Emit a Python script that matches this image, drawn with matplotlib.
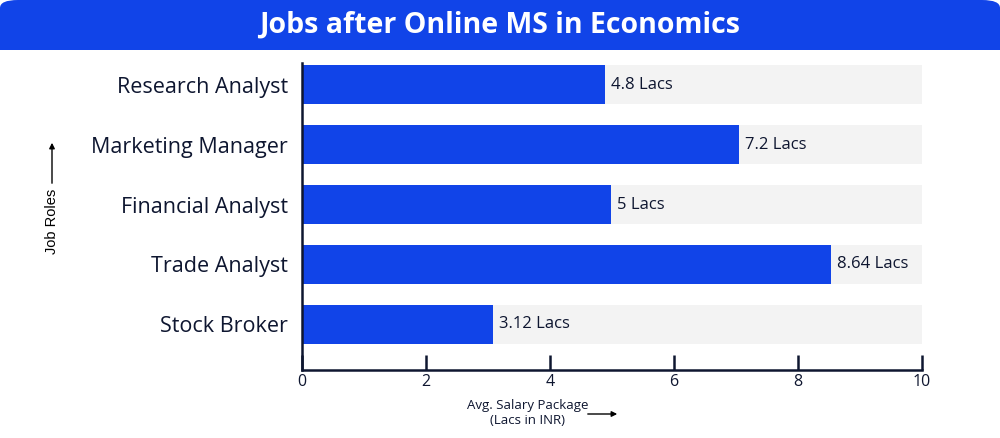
import matplotlib.pyplot as plt
from matplotlib.patches import FancyBboxPatch, FancyArrowPatch, Rectangle

roles = ["Stock Broker", "Trade Analyst", "Financial Analyst", "Marketing Manager", "Research Analyst"]
# bar lengths as drawn in the picture
salaries = [3.08, 8.53, 4.98, 7.05, 4.89]
labels = ["3.12 Lacs", "8.64 Lacs", "5 Lacs", "7.2 Lacs", "4.8 Lacs"]
x_max = 10
x_ticks = [0, 2, 4, 6, 8, 10]

blue = "#1144e8"
dark = "#0e1630"
font = ["Open Sans", "DejaVu Sans"]

fig = plt.figure(figsize=(10, 4.38), dpi=100)

# title banner, rounded on top only
banner = FancyBboxPatch((0.0, 1 - 50 / 438), 1.0, 50 / 438,
                        boxstyle="round,pad=0,rounding_size=0.018",
                        transform=fig.transFigure, facecolor=blue, edgecolor="none")
fig.patches.append(banner)
fig.patches.append(Rectangle((0.0, 1 - 50 / 438), 1.0, 25 / 438, transform=fig.transFigure,
                             facecolor=blue, edgecolor="none"))
fig.text(0.5, 1 - 25 / 438, "Jobs after Online MS in Economics", color="white",
         fontsize=20.5, fontweight="bold", ha="center", va="center", family=font)

ax = fig.add_axes([0.302, 1 - 370 / 438, 0.620, (370 - 63) / 438])
pos = range(len(roles))
ax.barh(pos, [x_max] * len(roles), height=0.65, color="#f3f3f3", zorder=1)
ax.barh(pos, salaries, height=0.65, color=blue, zorder=2)
for p, v, t in zip(pos, salaries, labels):
    ax.text(v + 0.1, p, t, va="center", ha="left", fontsize=12, color=dark, family=font)

ax.set_xlim(0, x_max)
ax.set_ylim(-0.76, 4.36)
ax.set_xticks(x_ticks)
ax.set_xticklabels([str(t) for t in x_ticks], fontsize=11.5, color=dark, family=font)
ax.set_yticks(list(pos))
ax.set_yticklabels(roles, fontsize=15.5, color=dark, family=font)
ax.tick_params(axis="x", direction="in", length=11, width=1.8, color=dark, pad=3)
ax.tick_params(axis="y", length=0, pad=10)
for s in ["top", "right"]:
    ax.spines[s].set_visible(False)
for s in ["left", "bottom"]:
    ax.spines[s].set_color(dark)
    ax.spines[s].set_linewidth(1.8)

# axis titles with arrows
fig.text(52 / 1000, 1 - 221 / 438, "Job Roles", rotation=90, ha="center", va="center",
         fontsize=10.5, color="black", family=["Liberation Sans", "DejaVu Sans"])
fig.patches.append(FancyArrowPatch(
    (52 / 1000, 1 - 186 / 438), (52 / 1000, 1 - 140 / 438), transform=fig.transFigure,
    arrowstyle="-|>", mutation_scale=8, color="black", lw=1))
fig.text(528 / 1000, 1 - 413 / 438, "Avg. Salary Package\n(Lacs in INR)", ha="center",
         va="center", fontsize=9.5, color=dark, family=font, linespacing=1.1)
fig.patches.append(FancyArrowPatch(
    (585 / 1000, 1 - 414 / 438), (620 / 1000, 1 - 414 / 438), transform=fig.transFigure,
    arrowstyle="-|>", mutation_scale=8, color="black", lw=1))

fig.savefig("out.png", dpi=100)
